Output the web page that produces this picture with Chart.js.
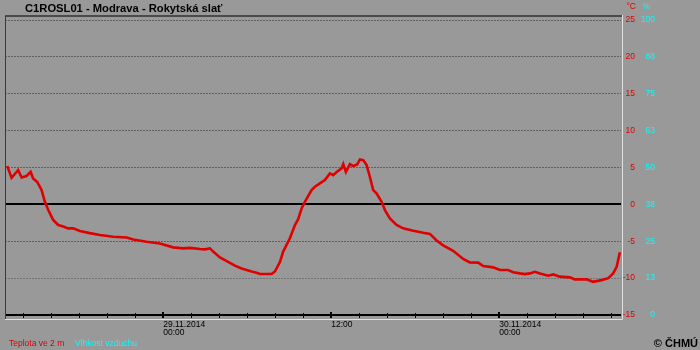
<!DOCTYPE html>
<html>
<head>
<meta charset="utf-8">
<script src="https://cdn.jsdelivr.net/npm/chart.js@4.4.1/dist/chart.umd.min.js"></script>
<style>
  html, body { margin: 0; padding: 0; background: #999999; }
  canvas { display: block; }
</style>
</head>
<body>
<canvas id="c" width="700" height="350"></canvas>
<script>
// ---- data ----
const chartTitle = 'C1ROSL01 - Modrava - Rokytská slať';
const seriesNames = ['Teplota ve 2 m', 'Vlhkost vzduchu'];
const seriesColors = ['#e00000', '#00ffff'];
const unitLabels = ['°C', '%'];
const copyrightText = '© ČHMÚ';

// time in hours relative to 29.11.2014 00:00
const hours = [-11.14,-10.83,-10.36,-10.11,-9.76,-9.47,-9.29,-9.0,-8.69,-8.45,-8.21,-7.86,-7.5,-7.14,-6.79,-6.43,-5.95,-5.24,-4.52,-3.57,-2.61,-2.14,-1.19,-0.24,0.71,1.43,1.91,2.62,2.98,3.34,3.57,4.05,4.64,5.12,5.6,5.96,6.31,6.67,6.91,7.74,7.98,8.34,8.57,9.05,9.41,9.64,9.89,10.12,10.6,10.84,11.19,11.55,11.91,12.14,12.39,12.74,12.86,13.05,13.34,13.57,13.86,14.05,14.29,14.53,14.76,15.0,15.24,15.6,15.84,16.19,16.67,17.14,17.86,18.57,19.05,19.53,20.0,20.71,21.43,21.9,22.5,22.86,23.57,24.05,24.64,25.0,25.48,25.83,26.19,26.55,26.91,27.5,27.86,28.33,29.05,29.4,30.24,30.71,31.31,31.79,32.14,32.39,32.62];
// air temperature at 2 m, °C
const temperature = [5.2,3.6,4.65,3.65,3.85,4.4,3.5,3.05,1.95,0.35,-0.77,-2.1,-2.8,-3.0,-3.25,-3.25,-3.6,-3.9,-4.16,-4.4,-4.5,-4.75,-5.07,-5.3,-5.83,-5.97,-5.9,-6.06,-6.1,-5.97,-6.4,-7.2,-7.8,-8.3,-8.7,-8.9,-9.1,-9.27,-9.45,-9.45,-9.1,-7.8,-6.4,-4.6,-2.8,-2.0,-0.54,0.35,1.94,2.4,2.85,3.3,4.2,3.97,4.4,4.88,5.46,4.4,5.46,5.2,5.42,6.1,6.0,5.33,3.75,1.94,1.5,0.35,-0.77,-1.9,-2.8,-3.25,-3.58,-3.85,-4.0,-4.9,-5.55,-6.3,-7.4,-7.87,-7.9,-8.37,-8.54,-8.9,-8.9,-9.2,-9.36,-9.45,-9.36,-9.14,-9.36,-9.68,-9.5,-9.8,-9.9,-10.17,-10.17,-10.5,-10.27,-10.0,-9.36,-8.46,-6.5];
// relative humidity: no values plotted in the reference
const humidity = [];

// tick labels
const tempTicks = [-15, -10, -5, 0, 5, 10, 15, 20, 25];
const humTickLabels = ['0', '13', '25', '38', '50', '63', '75', '88', '100'];
const xTickHours = [0, 12, 24];
const xTickLabels = [['29.11.2014', '00:00'], ['12:00'], ['30.11.2014', '00:00']];

// ---- chart ----
const FONT = '"Liberation Sans", Arial, Helvetica, sans-serif';
Chart.defaults.font.family = FONT;

const T_MIN = -15, T_MAX = 25.5424;
const HUM_PER_DEG = 2.5;

const decor = {
  id: 'decor',
  beforeDraw(chart) {
    const ctx = chart.ctx;
    ctx.save();
    ctx.fillStyle = '#999999';
    ctx.fillRect(0, 0, chart.width, chart.height);
    ctx.restore();
  },
  afterDraw(chart) {
    const { ctx, chartArea: a, scales: { x, y } } = chart;
    ctx.save();
    // sunken frame
    ctx.strokeStyle = '#4a4a4a';
    ctx.lineWidth = 2;
    ctx.beginPath();
    ctx.moveTo(a.left, a.top);
    ctx.lineTo(a.right + 1, a.top);
    ctx.stroke();
    ctx.lineWidth = 1;
    ctx.strokeStyle = '#3a3a3a';
    ctx.beginPath();
    ctx.moveTo(a.left + 0.5, a.bottom + 4);
    ctx.lineTo(a.left + 0.5, a.top);
    ctx.stroke();
    ctx.strokeStyle = '#e0e0e0';
    ctx.beginPath();
    ctx.moveTo(a.right + 1.5, a.top - 1);
    ctx.lineTo(a.right + 1.5, a.bottom + 4.5);
    ctx.lineTo(a.left, a.bottom + 4.5);
    ctx.stroke();
    // time axis tick marks across the axis line
    const y0 = Math.round(y.getPixelForValue(tempTicks[0]));
    ctx.fillStyle = '#000000';
    x.ticks.forEach(t => {
      const px = Math.round(x.getPixelForValue(t.value));
      if (xTickHours.includes(t.value)) ctx.fillRect(px - 1, y0 - 3, 2, 6);
      else ctx.fillRect(px, y0 - 2, 1, 5);
    });
    // title
    ctx.fillStyle = '#000000';
    ctx.font = 'bold 11.2px ' + FONT;
    ctx.textAlign = 'left';
    ctx.textBaseline = 'alphabetic';
    ctx.fillText(chartTitle, 25, 12);
    // unit labels
    ctx.font = '8.5px ' + FONT;
    ctx.textAlign = 'right';
    ctx.textBaseline = 'middle';
    ctx.fillStyle = seriesColors[0];
    ctx.fillText(unitLabels[0], 636, 7);
    ctx.fillStyle = seriesColors[1];
    ctx.fillText(unitLabels[1], 650, 7);
    // legend
    ctx.textAlign = 'left';
    ctx.textBaseline = 'alphabetic';
    ctx.fillStyle = seriesColors[0];
    ctx.fillText(chart.data.datasets[0].label, 9, 346);
    ctx.fillStyle = seriesColors[1];
    ctx.fillText(chart.data.datasets[1].label, 75, 346);
    // copyright
    ctx.fillStyle = '#000000';
    ctx.font = 'bold 11px ' + FONT;
    ctx.textAlign = 'right';
    ctx.fillText(copyrightText, 698, 346.5);
    ctx.restore();
  }
};

new Chart(document.getElementById('c'), {
  type: 'line',
  data: {
    datasets: [
      {
        label: seriesNames[0],
        data: hours.map((h, i) => ({ x: h, y: temperature[i] })),
        borderColor: seriesColors[0],
        borderWidth: 2.6,
        pointRadius: 0,
        tension: 0,
        fill: false,
        yAxisID: 'y'
      },
      {
        label: seriesNames[1],
        data: humidity,
        borderColor: seriesColors[1],
        borderWidth: 2,
        pointRadius: 0,
        fill: false,
        yAxisID: 'y2'
      }
    ]
  },
  options: {
    responsive: false,
    animation: false,
    devicePixelRatio: 1,
    layout: { padding: { left: 5, top: 16, right: 45, bottom: 0 } },
    plugins: { legend: { display: false }, title: { display: false }, tooltip: { enabled: false } },
    scales: {
      x: {
        type: 'linear',
        position: 'bottom',
        min: -11.3,
        max: 32.7,
        afterBuildTicks: s => {
          const t = [];
          for (let h = -10; h <= 32; h += 2) t.push({ value: h });
          s.ticks = t;
        },
        afterFit: s => { s.height = 35; },
        grid: { display: false, drawTicks: false },
        border: { display: false },
        ticks: {
          autoSkip: false, maxRotation: 0, minRotation: 0, align: 'start', padding: 5,
          color: '#000000',
          font: { size: 8.5, lineHeight: 1 },
          callback: v => { const i = xTickHours.indexOf(v); return i < 0 ? '' : xTickLabels[i]; }
        }
      },
      y: {
        position: 'right',
        min: T_MIN,
        max: T_MAX,
        weight: 0,
        afterBuildTicks: s => { s.ticks = tempTicks.map(v => ({ value: v })); },
        afterFit: s => { s.width = 14; },
        grid: {
          drawTicks: false,
          lineWidth: 1,
          color: c => {
            if (!c.tick) return 'rgba(0,0,0,0)';
            const v = c.tick.value;
            if (v === 0 || v === tempTicks[0]) return 'rgba(0,0,0,0)';
            return v === -10 ? '#747474' : '#606060';
          }
        },
        border: { display: false, dash: [2, 1] },
        ticks: {
          crossAlign: 'far', padding: 3, color: seriesColors[0],
          font: { size: 8.5 },
          callback: v => String(v)
        }
      },
      y2: {
        position: 'right',
        min: (T_MIN + 15) * HUM_PER_DEG,
        max: (T_MAX + 15) * HUM_PER_DEG,
        weight: 1,
        afterBuildTicks: s => { s.ticks = humTickLabels.map((l, i) => ({ value: i * 12.5 })); },
        afterFit: s => { s.width = 20; },
        grid: {
          drawTicks: false,
          lineWidth: 2,
          color: c => (c.tick && (c.tick.value === 37.5 || c.tick.value === 0)) ? '#000000' : 'rgba(0,0,0,0)'
        },
        border: { display: false },
        ticks: {
          crossAlign: 'far', padding: 1, color: seriesColors[1],
          font: { size: 8.5 },
          callback: (v, i) => humTickLabels[i]
        }
      }
    }
  },
  plugins: [decor]
});
</script>
</body>
</html>
